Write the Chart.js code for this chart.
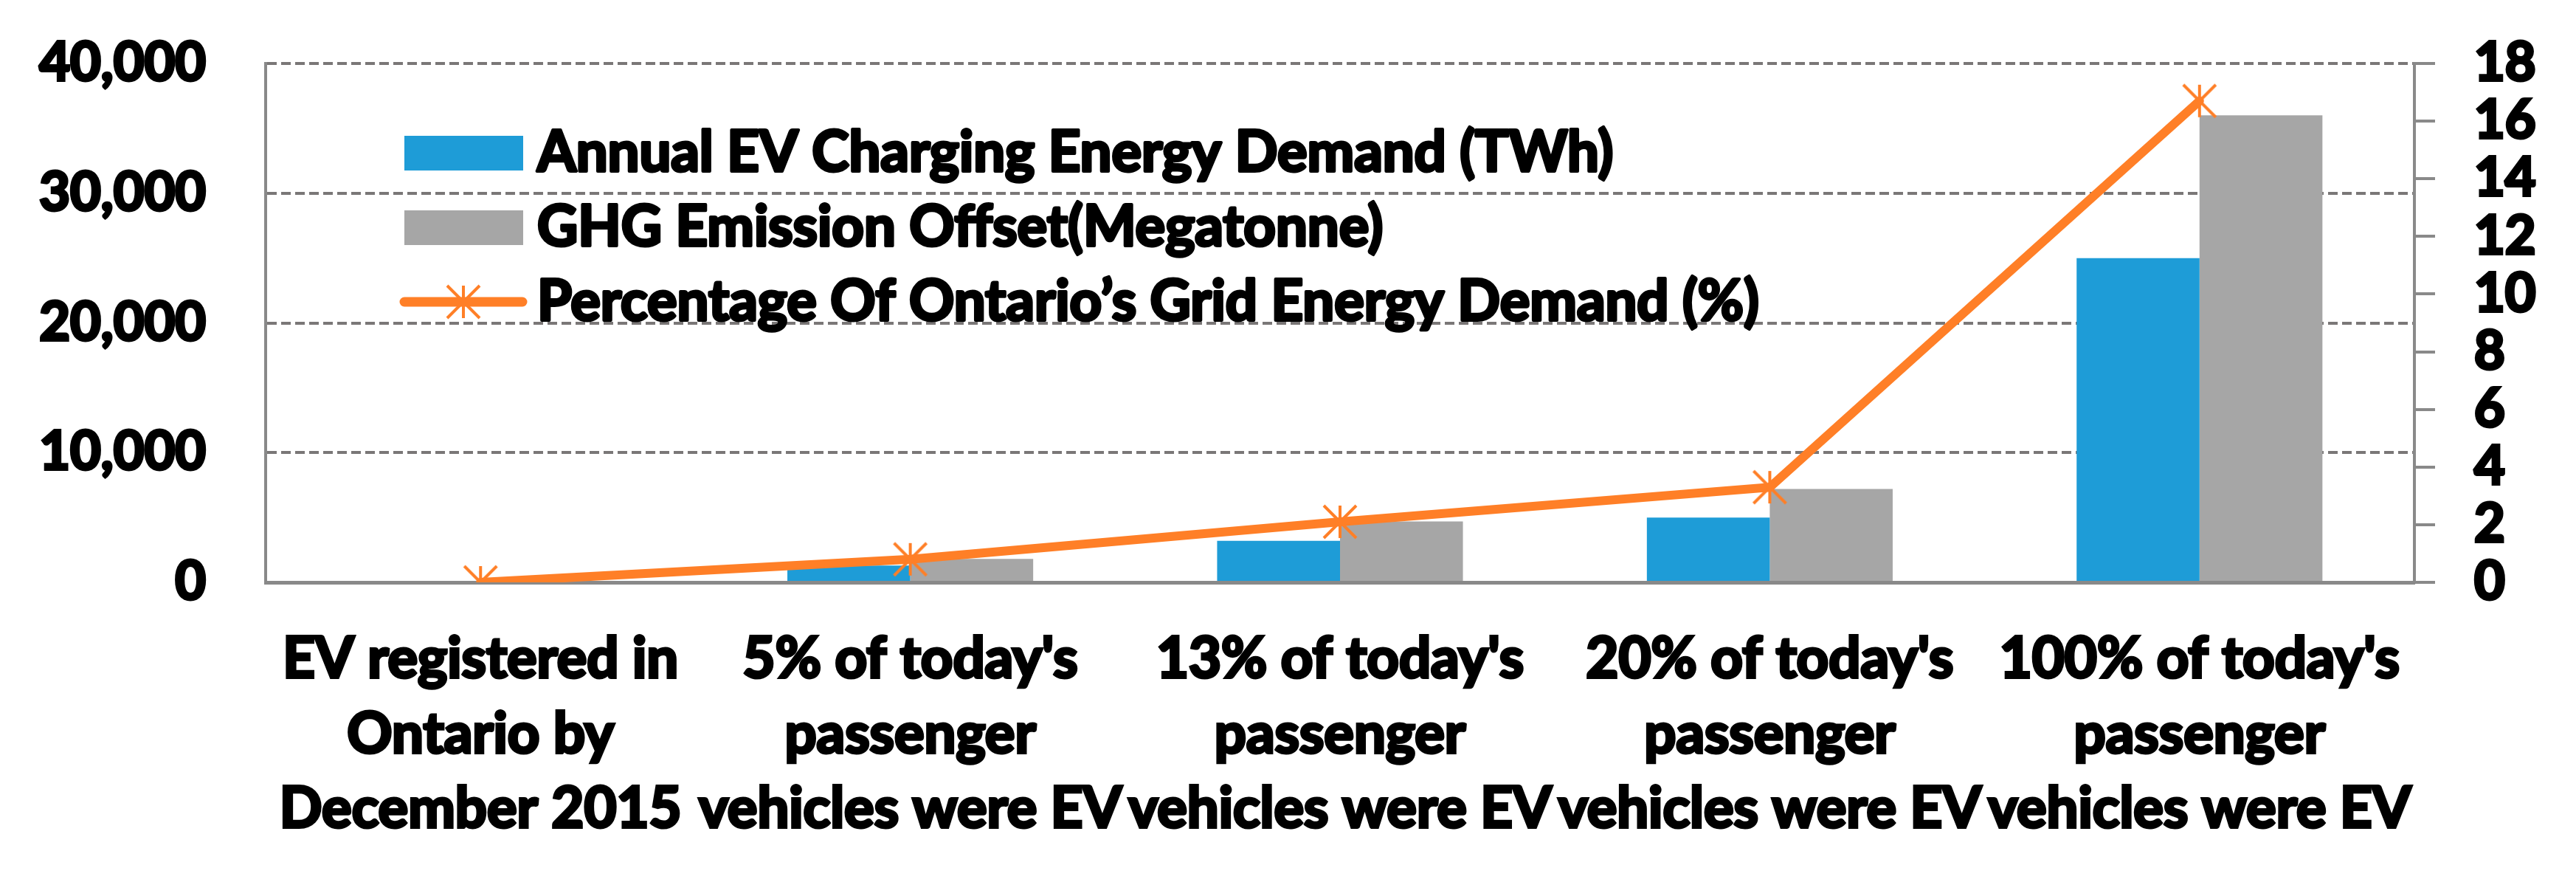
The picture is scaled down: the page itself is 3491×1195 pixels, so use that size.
<!DOCTYPE html>
<html>
<head>
<meta charset="utf-8">
<script src="https://cdn.jsdelivr.net/npm/chart.js@4.4.0/dist/chart.umd.min.js"></script>
<style>
  html, body { margin: 0; padding: 0; background: #fff; }
  #wrap { width: 3491px; height: 1195px; }
</style>
</head>
<body>
<div id="wrap"><canvas id="evChart" width="3491" height="1195"></canvas></div>
<script>
const categories = [
  ["EV registered in", "Ontario by", "December 2015"],
  ["5% of today's", "passenger", "vehicles were EV"],
  ["13% of today's", "passenger", "vehicles were EV"],
  ["20% of today's", "passenger", "vehicles were EV"],
  ["100% of today's", "passenger", "vehicles were EV"],
];

const seriesLabels = [
  "Annual EV Charging Energy Demand (TWh)",
  "GHG Emission Offset(Megatonne)",
  "Percentage Of Ontario\u2019s Grid Energy Demand (%)",
];

const energyDemand = [0, 1300, 3200, 5000, 25000];
const ghgOffset = [0, 1800, 4700, 7200, 36000];
const gridPercent = [0, 0.8, 2.1, 3.3, 16.7];

const leftTicks = [0, 10000, 20000, 30000, 40000];
const rightTicks = [0, 2, 4, 6, 8, 10, 12, 14, 16, 18];

const BLUE = "#1e9cd7";
const GREY = "#a6a6a6";
const ORANGE = "#ff7f27";
const AXIS = "#898989";
const GRID = "#7a7777";
const STROKE = 4; // thickens Lato toward the heavy look of the original

// excel style asterisk: vertical bar + X
function asteriskMarker(size, color, width) {
  const c = document.createElement("canvas");
  c.width = size;
  c.height = size;
  const g = c.getContext("2d");
  g.strokeStyle = color;
  g.lineWidth = width;
  const p = width / 2 + 1;
  g.beginPath();
  g.moveTo(size / 2, p);
  g.lineTo(size / 2, size - p);
  g.moveTo(p, p);
  g.lineTo(size - p, size - p);
  g.moveTo(size - p, p);
  g.lineTo(p, size - p);
  g.stroke();
  return c;
}

const marker = asteriskMarker(50, ORANGE, 4);

// the tick padding would otherwise be added on top of the chart area
function noEdgePadding(s) {
  s.paddingTop = 0;
  s.paddingBottom = 0;
  s.paddingLeft = 0;
  s.paddingRight = 0;
}

// legend drawn inside the plot area, top left
const insideLegend = {
  id: "insideLegend",
  afterDatasetsDraw(chart) {
    const ctx = chart.ctx;
    const rows = [207, 308, 409];
    ctx.save();
    ctx.font = "bold 76px Lato";
    ctx.textBaseline = "alphabetic";
    ctx.lineJoin = "round";
    chart.data.datasets.forEach((ds, i) => {
      const y = rows[i];
      if (ds.type === "line") {
        ctx.strokeStyle = ds.borderColor;
        ctx.lineWidth = 13;
        ctx.lineCap = "round";
        ctx.beginPath();
        ctx.moveTo(548, y);
        ctx.lineTo(708, y);
        ctx.stroke();
        ctx.drawImage(marker, 628 - 25, y - 25);
      } else {
        ctx.fillStyle = ds.backgroundColor;
        ctx.fillRect(548, y - 23, 161, 47);
      }
      ctx.fillStyle = "#000";
      ctx.strokeStyle = "#000";
      ctx.lineWidth = STROKE;
      ctx.strokeText(ds.label, 728, y + 25);
      ctx.fillText(ds.label, 728, y + 25);
    });
    ctx.restore();
  },
};

function draw() {
  Chart.defaults.font.family = "Lato";
  Chart.defaults.font.weight = "bold";
  Chart.defaults.font.size = 72;
  Chart.defaults.color = "#000";

  new Chart(document.getElementById("evChart"), {
    type: "bar",
    data: {
      labels: categories,
      datasets: [
        {
          label: seriesLabels[0],
          data: energyDemand,
          backgroundColor: BLUE,
          yAxisID: "y",
          order: 1,
        },
        {
          label: seriesLabels[1],
          data: ghgOffset,
          backgroundColor: GREY,
          yAxisID: "y",
          order: 1,
        },
        {
          type: "line",
          label: seriesLabels[2],
          data: gridPercent,
          borderColor: ORANGE,
          backgroundColor: ORANGE,
          borderWidth: 12,
          borderCapStyle: "round",
          tension: 0,
          pointStyle: marker,
          pointRadius: 22,
          yAxisID: "y1",
          order: 0,
        },
      ],
    },
    options: {
      responsive: false,
      devicePixelRatio: 1,
      animation: false,
      layout: { padding: { top: 86, left: 0, right: 0, bottom: 0 } },
      datasets: {
        bar: { categoryPercentage: 0.572, barPercentage: 1.0 },
      },
      plugins: {
        legend: { display: false },
        tooltip: { enabled: false },
      },
      scales: {
        x: {
          grid: { display: false, drawTicks: false },
          border: { display: true, color: AXIS, width: 5 },
          ticks: {
            autoSkip: false,
            maxRotation: 0,
            minRotation: 0,
            padding: 54,
            textStrokeColor: "#000",
            textStrokeWidth: STROKE,
            font: { size: 76, lineHeight: 1.336 },
          },
          afterFit(s) {
            s.height = 406;
            noEdgePadding(s);
          },
        },
        y: {
          position: "left",
          min: leftTicks[0],
          max: leftTicks[leftTicks.length - 1],
          afterBuildTicks(s) {
            s.ticks = leftTicks.map((v) => ({ value: v }));
          },
          ticks: {
            autoSkip: false,
            padding: 81,
            textStrokeColor: "#000",
            textStrokeWidth: STROKE,
            callback: (v) => v.toLocaleString("en-US"),
          },
          grid: {
            drawTicks: false,
            lineWidth: 4,
            color: (c) => (c.tick && c.tick.value === 0 ? "transparent" : GRID),
          },
          border: { display: true, color: AXIS, width: 4, dash: [13, 6] },
          afterFit(s) {
            s.width = 360;
            noEdgePadding(s);
          },
        },
        y1: {
          position: "right",
          min: rightTicks[0],
          max: rightTicks[rightTicks.length - 1],
          afterBuildTicks(s) {
            s.ticks = rightTicks.map((v) => ({ value: v }));
          },
          ticks: {
            autoSkip: false,
            padding: 53,
            textStrokeColor: "#000",
            textStrokeWidth: STROKE,
          },
          grid: {
            drawOnChartArea: false,
            drawTicks: true,
            tickLength: 28,
            color: AXIS,
            lineWidth: 4,
          },
          border: { display: true, color: AXIS, width: 4 },
          afterFit(s) {
            s.width = 219;
            noEdgePadding(s);
          },
        },
      },
    },
    plugins: [insideLegend],
  });
}

document.fonts.load("bold 76px Lato").then(draw, draw);
</script>
</body>
</html>
